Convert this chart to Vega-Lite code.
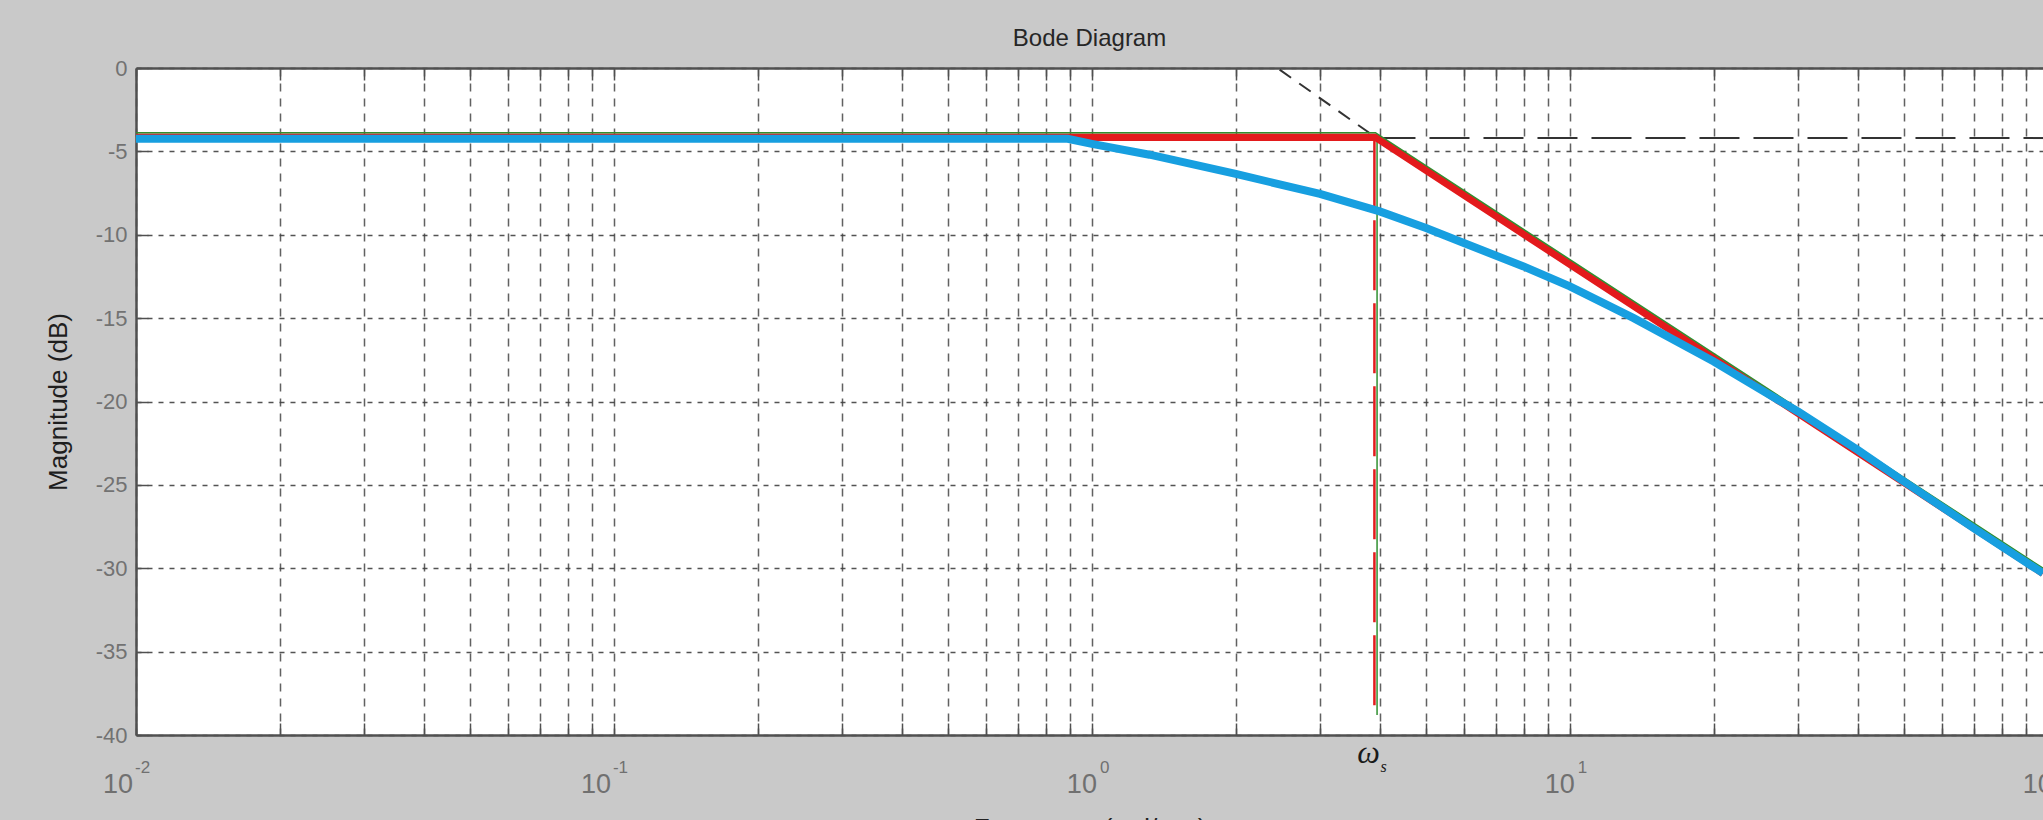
{
  "$schema": "https://vega.github.io/schema/vega-lite/v6.json",
  "width": 1907,
  "height": 667,
  "autosize": {"type": "none"},
  "padding": {"left": 136, "top": 68, "right": 0, "bottom": 85},
  "background": "#c9c9c9",
  "title": {"text": "Bode Diagram", "font": "Liberation Sans", "fontSize": 24, "fontWeight": "normal", "color": "#262626", "anchor": "middle", "frame": "group", "baseline": "bottom", "offset": -18},
  "config": {"view": {"fill": "#ffffff", "stroke": null}},
  "datasets": {
    "blue": [
      {"w": 0.01, "db": -4.25}, {"w": 0.3, "db": -4.25}, {"w": 0.89, "db": -4.25},
      {"w": 1.0, "db": -4.55}, {"w": 1.32, "db": -5.2}, {"w": 2.0, "db": -6.35},
      {"w": 3.0, "db": -7.55}, {"w": 4.0, "db": -8.6}, {"w": 5.0, "db": -9.6},
      {"w": 6.0, "db": -10.5}, {"w": 8.0, "db": -11.9}, {"w": 10, "db": -13.1},
      {"w": 13.6, "db": -15.0}, {"w": 20, "db": -17.6}, {"w": 25.8, "db": -19.5},
      {"w": 30, "db": -20.6}, {"w": 40, "db": -22.9}, {"w": 50, "db": -24.8},
      {"w": 70, "db": -27.6}, {"w": 97.7, "db": -30.3}
    ],
    "red": [{"w": 0.01, "db": -4.15}, {"w": 3.92, "db": -4.15}, {"w": 97.7, "db": -30.3}],
    "green": [{"w": 0.01, "db": -3.88}, {"w": 3.92, "db": -3.88}, {"w": 97.7, "db": -30.0}],
    "redV": [{"w": 3.9, "db": -4.15}, {"w": 3.9, "db": -38.8}],
    "greenV": [{"w": 3.95, "db": -4.15}, {"w": 3.95, "db": -38.8}],
    "diag": [{"w": 2.47, "db": -0.1}, {"w": 3.92, "db": -4.15}],
    "horiz": [{"w": 3.92, "db": -4.2}, {"w": 97.7, "db": -4.2}],
    "ticklabels": [
      {"w": 0.01, "exp": "-2", "neg": 1}, {"w": 0.1, "exp": "-1", "neg": 1},
      {"w": 1, "exp": "0", "neg": 0}, {"w": 10, "exp": "1", "neg": 0}, {"w": 100, "exp": "2", "neg": 0}
    ],
    "omega": [{"w": 3.92, "sym": "ω", "sub": "s"}]
  },
  "resolve": {"axis": {"x": "independent"}},
  "layer": [
    {
      "data": {"name": "diag"},
      "mark": {"type": "line", "color": "#333333", "strokeWidth": 2, "strokeDash": [14, 10]},
      "encoding": {
        "x": {"field": "w", "type": "quantitative",
          "scale": {"type": "log", "domain": [0.01, 97.7], "nice": false},
          "axis": {"orient": "bottom",
            "values": [0.01,0.02,0.03,0.04,0.05,0.06,0.07,0.08,0.09,0.1,0.2,0.3,0.4,0.5,0.6,0.7,0.8,0.9,1,2,3,4,5,6,7,8,9,10,20,30,40,50,60,70,80,90],
            "labels": false, "title": "Frequency (rad/sec)", "titleFont": "Liberation Sans", "titleFontSize": 26, "titleFontWeight": "normal", "titleColor": "#222222", "titleY": 80, "titleBaseline": "top",
            "grid": true, "gridColor": "#454545", "gridDash": [8, 7], "gridWidth": 1.5, "gridOpacity": 0.85,
            "ticks": true, "tickSize": -12, "tickColor": "#505050", "tickWidth": 1.5,
            "domain": true, "domainColor": "#505050", "domainWidth": 2.5}},
        "y": {"field": "db", "type": "quantitative",
          "scale": {"domain": [-40, 0], "nice": false, "zero": false},
          "axis": {"values": [0, -5, -10, -15, -20, -25, -30, -35, -40], "labelExpr": "'' + datum.value",
            "title": "Magnitude (dB)", "titleFont": "Liberation Sans", "titleFontSize": 26, "titleFontWeight": "normal", "titleColor": "#1e1e1e", "titleX": -78, "titleBaseline": "middle", "titleAngle": -90,
            "grid": true, "gridColor": "#404040", "gridDash": [5, 6], "gridWidth": 1.6, "gridOpacity": 0.9,
            "ticks": true, "tickSize": -12, "tickColor": "#505050", "tickWidth": 1.5,
            "domain": true, "domainColor": "#505050", "domainWidth": 2.5,
            "labelFont": "Liberation Sans", "labelFontSize": 22, "labelColor": "#727272", "labelPadding": 21}}
      }
    },
    {
      "data": {"name": "horiz"},
      "mark": {"type": "line", "color": "#333333", "strokeWidth": 2, "strokeDash": [40, 14]},
      "encoding": {
        "x": {"field": "w", "type": "quantitative",
          "axis": {"orient": "top",
            "values": [0.01,0.02,0.03,0.04,0.05,0.06,0.07,0.08,0.09,0.1,0.2,0.3,0.4,0.5,0.6,0.7,0.8,0.9,1,2,3,4,5,6,7,8,9,10,20,30,40,50,60,70,80,90],
            "labels": false, "title": null, "grid": false,
            "ticks": true, "tickSize": -12, "tickColor": "#505050", "tickWidth": 1.5,
            "domain": true, "domainColor": "#505050", "domainWidth": 2.5}},
        "y": {"field": "db", "type": "quantitative"}
      }
    },
    {
      "data": {"name": "greenV"},
      "mark": {"type": "line", "color": "#2f8f2f", "strokeWidth": 1.5},
      "encoding": {
        "x": {"field": "w", "type": "quantitative", "axis": null},
        "y": {"field": "db", "type": "quantitative"}
      }
    },
    {
      "data": {"name": "redV"},
      "mark": {"type": "line", "color": "#e31a1c", "strokeWidth": 2.5, "strokeDash": [70, 13]},
      "encoding": {
        "x": {"field": "w", "type": "quantitative", "axis": null},
        "y": {"field": "db", "type": "quantitative"}
      }
    },
    {
      "data": {"name": "red"},
      "mark": {"type": "line", "color": "#e31a1c", "strokeWidth": 7.5},
      "encoding": {
        "x": {"field": "w", "type": "quantitative", "axis": null},
        "y": {"field": "db", "type": "quantitative"}
      }
    },
    {
      "data": {"name": "green"},
      "mark": {"type": "line", "color": "#2f8f2f", "strokeWidth": 1.5},
      "encoding": {
        "x": {"field": "w", "type": "quantitative", "axis": null},
        "y": {"field": "db", "type": "quantitative"}
      }
    },
    {
      "data": {"name": "blue"},
      "mark": {"type": "line", "color": "#179fe0", "strokeWidth": 8},
      "encoding": {
        "x": {"field": "w", "type": "quantitative", "axis": null},
        "y": {"field": "db", "type": "quantitative"}
      }
    },
    {
      "data": {"name": "ticklabels"},
      "transform": [{"filter": "datum.neg == 1"}],
      "mark": {"type": "text", "text": "10", "font": "Liberation Sans", "fontSize": 27, "color": "#707070", "align": "right", "baseline": "alphabetic", "dx": -3, "dy": 58},
      "encoding": {
        "x": {"field": "w", "type": "quantitative", "axis": null},
        "y": {"datum": -40, "type": "quantitative"}
      }
    },
    {
      "data": {"name": "ticklabels"},
      "transform": [{"filter": "datum.neg == 0"}],
      "mark": {"type": "text", "text": "10", "font": "Liberation Sans", "fontSize": 27, "color": "#707070", "align": "right", "baseline": "alphabetic", "dx": 5, "dy": 58},
      "encoding": {
        "x": {"field": "w", "type": "quantitative", "axis": null},
        "y": {"datum": -40, "type": "quantitative"}
      }
    },
    {
      "data": {"name": "ticklabels"},
      "transform": [{"filter": "datum.neg == 1"}],
      "mark": {"type": "text", "font": "Liberation Sans", "fontSize": 17, "color": "#707070", "align": "left", "baseline": "alphabetic", "dx": -1, "dy": 38},
      "encoding": {
        "x": {"field": "w", "type": "quantitative", "axis": null},
        "y": {"datum": -40, "type": "quantitative"},
        "text": {"field": "exp"}
      }
    },
    {
      "data": {"name": "ticklabels"},
      "transform": [{"filter": "datum.neg == 0"}],
      "mark": {"type": "text", "font": "Liberation Sans", "fontSize": 17, "color": "#707070", "align": "left", "baseline": "alphabetic", "dx": 8, "dy": 38},
      "encoding": {
        "x": {"field": "w", "type": "quantitative", "axis": null},
        "y": {"datum": -40, "type": "quantitative"},
        "text": {"field": "exp"}
      }
    },
    {
      "data": {"name": "omega"},
      "mark": {"type": "text", "font": "Liberation Serif", "fontStyle": "italic", "fontSize": 32, "color": "#1a1a1a", "align": "center", "baseline": "alphabetic", "dx": -7, "dy": 28},
      "encoding": {
        "x": {"field": "w", "type": "quantitative", "axis": null},
        "y": {"datum": -40, "type": "quantitative"},
        "text": {"field": "sym"}
      }
    },
    {
      "data": {"name": "omega"},
      "mark": {"type": "text", "font": "Liberation Serif", "fontStyle": "italic", "fontSize": 16, "color": "#1a1a1a", "align": "left", "baseline": "alphabetic", "dx": 5, "dy": 37},
      "encoding": {
        "x": {"field": "w", "type": "quantitative", "axis": null},
        "y": {"datum": -40, "type": "quantitative"},
        "text": {"field": "sub"}
      }
    }
  ]
}
